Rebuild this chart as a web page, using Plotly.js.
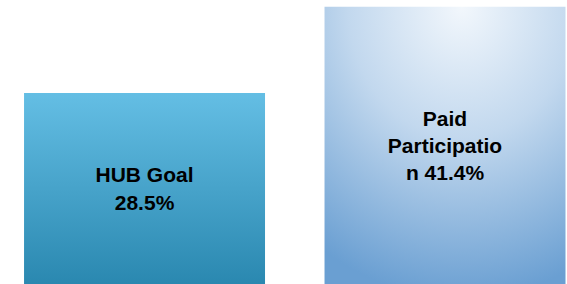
<!DOCTYPE html>
<html>
<head>
<meta charset="utf-8">
<script src="https://cdn.plot.ly/plotly-3.0.1.min.js"></script>
<style>
html,body{margin:0;padding:0;background:#fff;}
#chart{width:567px;height:284px;}
</style>
</head>
<body>
<div id="chart"></div>
<script>
const categories = ["HUB Goal", "Paid Participation"];
const values = [28.5, 41.4];
const barLabels = ["HUB Goal<br>28.5%", "Paid<br>Participatio<br>n 41.4%"];
const baseColors = ["#43a3cc", "#a6c6e6"];

const trace = {
  type: "bar",
  x: categories,
  y: values,
  text: barLabels,
  texttemplate: "%{text}",
  textposition: "inside",
  insidetextanchor: "middle",
  textangle: 0,
  textfont: {family: "Liberation Sans, Arial, sans-serif", size: 21, color: "#000", weight: "bold"},
  marker: {color: baseColors, line: {width: 0}},
  width: 0.802,
  hoverinfo: "none"
};

const layout = {
  width: 567, height: 284,
  margin: {l: 0, r: 0, t: 0, b: 0},
  paper_bgcolor: "#fff", plot_bgcolor: "#fff",
  showlegend: false,
  xaxis: {visible: false, range: [-0.481, 1.406], type: "category"},
  yaxis: {visible: false, range: [0, 42.4]},
  bargap: 0.198
};

Plotly.newPlot("chart", [trace], layout, {staticPlot: true, displayModeBar: false}).then(function(gd){
  const NS = "http://www.w3.org/2000/svg";
  const svg = gd.querySelector(".main-svg");
  let defs = svg.querySelector("defs");
  if (!defs) { defs = document.createElementNS(NS, "defs"); svg.insertBefore(defs, svg.firstChild); }
  function stop(el, off, col){ const s=document.createElementNS(NS,"stop"); s.setAttribute("offset",off); s.setAttribute("stop-color",col); el.appendChild(s); }
  const lg = document.createElementNS(NS, "linearGradient");
  lg.setAttribute("id","gradHub"); lg.setAttribute("x1","0"); lg.setAttribute("y1","0"); lg.setAttribute("x2","0"); lg.setAttribute("y2","1");
  stop(lg,"0","#64bee4"); stop(lg,"1","#2a88b0");
  defs.appendChild(lg);
  const rg = document.createElementNS(NS, "radialGradient");
  rg.setAttribute("id","gradPaid"); rg.setAttribute("cx","0.57"); rg.setAttribute("cy","0.0"); rg.setAttribute("r","1.05");
  rg.setAttribute("fx","0.57"); rg.setAttribute("fy","0.0");
  stop(rg,"0","#f2f7fc"); stop(rg,"0.45","#c2d8ee"); stop(rg,"1","#6a9fd2");
  defs.appendChild(rg);
  const paths = gd.querySelectorAll(".barlayer .point path");
  const ids = ["gradHub","gradPaid"];
  paths.forEach(function(p,i){ p.style.fill = "url(#" + ids[i] + ")"; p.style.fillOpacity = 1; });
});
</script>
</body>
</html>
